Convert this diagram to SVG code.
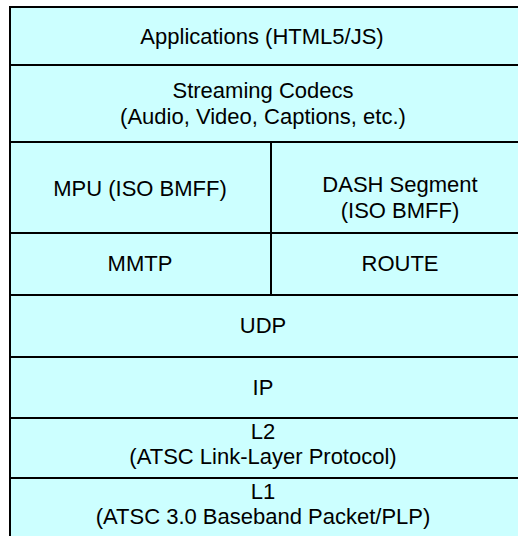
<svg xmlns="http://www.w3.org/2000/svg" width="518" height="536" viewBox="0 0 518 536">
<style>
rect.layer{fill:#CCFFFF;stroke:#000;stroke-width:2}
text{font-family:"Liberation Sans",Arial,sans-serif;font-size:22px;fill:#000;text-anchor:middle}
</style>
<rect x="0" y="0" width="518" height="536" fill="#ffffff"/>
<g id="applications"><rect class="layer" x="10" y="7" width="512" height="58"/><text x="262" y="44">Applications (HTML5/JS)</text></g>
<g id="codecs"><rect class="layer" x="10" y="65" width="512" height="77"/><text x="263" y="98">Streaming Codecs</text><text x="263" y="124">(Audio, Video, Captions, etc.)</text></g>
<g id="mpu"><rect class="layer" x="10" y="142" width="261" height="91"/><text x="140" y="196">MPU (ISO BMFF)</text></g>
<g id="dash"><rect class="layer" x="271" y="142" width="251" height="91"/><text x="400" y="192">DASH Segment</text><text x="400" y="218">(ISO BMFF)</text></g>
<g id="mmtp"><rect class="layer" x="10" y="233" width="261" height="62"/><text x="140" y="271">MMTP</text></g>
<g id="route"><rect class="layer" x="271" y="233" width="251" height="62"/><text x="400" y="271">ROUTE</text></g>
<g id="udp"><rect class="layer" x="10" y="295" width="512" height="62"/><text x="263" y="333">UDP</text></g>
<g id="ip"><rect class="layer" x="10" y="357" width="512" height="61"/><text x="263" y="395">IP</text></g>
<g id="l2"><rect class="layer" x="10" y="418" width="512" height="60"/><text x="263" y="439">L2</text><text x="263" y="464">(ATSC Link-Layer Protocol)</text></g>
<g id="l1"><rect class="layer" x="10" y="478" width="512" height="64"/><text x="263" y="499">L1</text><text x="263" y="524">(ATSC 3.0 Baseband Packet/PLP)</text></g>
<g id="connectors"></g>
</svg>
